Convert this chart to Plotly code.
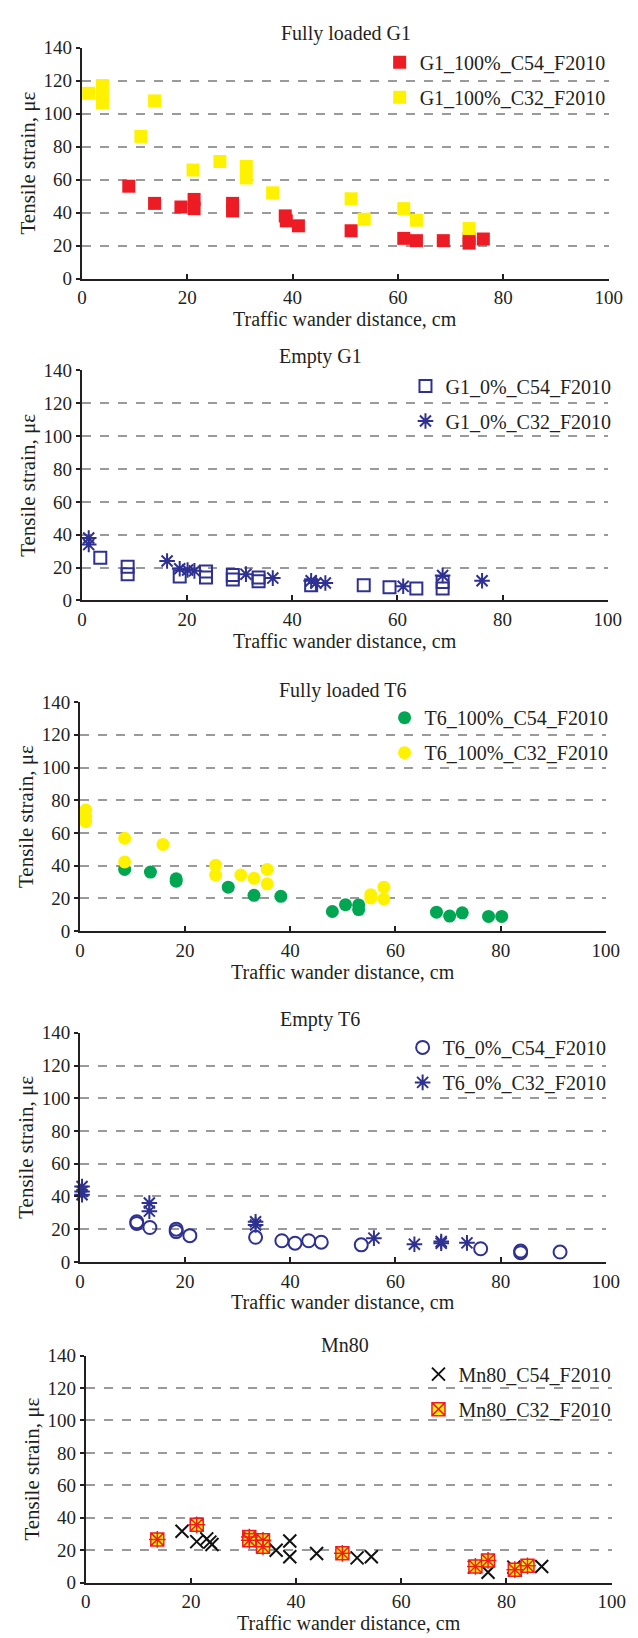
import plotly.graph_objects as go

W, H = 638, 1638
FONT = "Liberation Serif"
NAVY = "#2E3192"
RED = "#ED1C24"
YEL = "#FFF200"
GREEN = "#00A651"
GRID = "#9A9A9A"
INK = "#231F20"

# ---------------- data ----------------
x_ticks = [0, 20, 40, 60, 80, 100]
y_ticks = [0, 20, 40, 60, 80, 100, 120, 140]

panel_titles = ["Fully loaded G1", "Empty G1", "Fully loaded T6", "Empty T6", "Mn80"]
x_title = "Traffic wander distance, cm"
y_title = "Tensile strain, \u03bc\u03b5"

g1_full_c54_x = [8.9, 13.8, 18.8, 21.3, 21.3, 28.6, 28.6, 38.6, 38.8, 41.1, 51.1, 61.1, 63.5, 68.6, 73.5, 73.5, 76.2]
g1_full_c54_y = [56, 45.6, 43.4, 48, 42.4, 45.6, 41, 38, 35, 32, 29, 24.4, 23, 23, 24, 21.5, 24]
g1_full_c32_x = [1.3, 3.9, 3.9, 3.9, 13.8, 11.2, 21.1, 26.2, 31.2, 31.2, 36.2, 51.1, 53.6, 61.1, 63.5, 73.5]
g1_full_c32_y = [112.3, 117, 111, 106.5, 107.7, 86.2, 65.8, 71, 68, 61, 52, 48.4, 36, 42.4, 35.4, 30.4]

g1_empty_c54_x = [3.5, 8.7, 8.7, 18.6, 23.6, 23.6, 28.7, 28.7, 33.6, 33.6, 43.6, 53.6, 58.5, 63.6, 68.6, 68.6]
g1_empty_c54_y = [26, 20.5, 16, 14.6, 17.6, 14, 15.5, 12.8, 14, 11.6, 9.2, 9.2, 8, 7.2, 11.2, 7.2]
g1_empty_c32_x = [1.3, 1.3, 16.2, 18.6, 20.1, 21.4, 31.2, 36.3, 43.6, 44.5, 46.3, 61.1, 68.6, 76.1]
g1_empty_c32_y = [38, 34, 24, 19.3, 18.5, 18, 16, 13.6, 12, 10.6, 10.6, 8.6, 15.2, 12]

t6_full_c54_x = [8.5, 13.4, 18.3, 18.3, 28.2, 33.1, 38.2, 48, 50.5, 53, 53, 67.8, 70.3, 72.7, 77.7, 80.2]
t6_full_c54_y = [37.7, 36.1, 32, 30.5, 26.9, 21.9, 21.3, 12, 16.2, 16, 13.2, 11.6, 9.2, 11.2, 9, 9]
t6_full_c32_x = [1.1, 1.1, 1.1, 8.5, 8.5, 15.8, 25.8, 25.8, 30.6, 33.1, 35.6, 35.6, 55.3, 55.3, 57.8, 57.8]
t6_full_c32_y = [74, 70, 67, 56.8, 42.3, 53, 40.3, 34.3, 34.3, 32.3, 37.7, 28.9, 22.3, 20.3, 26.9, 19.7]

t6_empty_c54_x = [10.8, 10.8, 13.3, 18.3, 18.3, 20.9, 33.4, 38.4, 40.9, 43.5, 45.9, 53.5, 76.2, 83.8, 83.8, 91.3]
t6_empty_c54_y = [24.5, 23.5, 21, 20, 18.5, 16, 15, 12.9, 11.4, 12.9, 12, 10.4, 8, 6.6, 5.6, 6]
t6_empty_c32_x = [0.4, 0.4, 0.4, 13.2, 13.2, 33.4, 33.4, 55.9, 63.6, 68.7, 68.7, 73.6]
t6_empty_c32_y = [46, 43, 41, 36, 31, 24.5, 22.5, 14.5, 10.8, 12.4, 11.4, 11.6]

mn80_c54_x = [18.3, 21.1, 23.0, 23.6, 24.0, 36.2, 38.8, 38.8, 43.9, 51.6, 54.3, 73.9, 76.5, 81.4, 86.7]
mn80_c54_y = [31.7, 25.3, 27, 25, 23.5, 20, 25.7, 16, 18, 15.3, 16, 9.6, 6.4, 9.6, 10]
mn80_c32_x = [13.6, 21.1, 31.1, 31.1, 33.7, 33.7, 48.8, 74.1, 76.5, 81.6, 84.0]
mn80_c32_y = [26.7, 35.7, 28.1, 26.1, 26.1, 22.1, 18.1, 10, 13.7, 8, 10.4]

series_names = [
    ["G1_100%_C54_F2010", "G1_100%_C32_F2010"],
    ["G1_0%_C54_F2010", "G1_0%_C32_F2010"],
    ["T6_100%_C54_F2010", "T6_100%_C32_F2010"],
    ["T6_0%_C54_F2010", "T6_0%_C32_F2010"],
    ["Mn80_C54_F2010", "Mn80_C32_F2010"],
]

# ---------------- layout geometry (pixels) ----------------
# (x_left, x_right, y_top, y_bottom)
boxes = [
    (71, 614, 30, 264),
    (71, 613, 357, 590),
    (69, 611, 693, 925),
    (69, 611, 1028, 1260),
    (75, 617, 1355, 1585),
]
title_pos = [(343, 16), (317, 343), (340, 681), (316, 1015), (342, 1344)]
legend_pos = [(616, 25), (622, 353), (619, 689), (617, 1023), (622, 1354)]


def px_x(v):
    return v / W


def px_y(v):
    return 1 - v / H


marker_styles = [
    [dict(symbol="square", size=13, color=RED), dict(symbol="square", size=13, color=YEL)],
    [dict(symbol="square-open", size=12, color=NAVY, line=dict(width=2, color=NAVY)),
     dict(symbol="asterisk-open", size=13, color=NAVY, line=dict(width=2, color=NAVY))],
    [dict(symbol="circle", size=13, color=GREEN), dict(symbol="circle", size=13, color=YEL)],
    [dict(symbol="circle-open", size=13, color=NAVY, line=dict(width=2, color=NAVY)),
     dict(symbol="asterisk-open", size=13, color=NAVY, line=dict(width=2, color=NAVY))],
    [dict(symbol="x-thin-open", size=13, color="#111111", line=dict(width=2, color="#111111")),
     dict(symbol="square-x", size=13, color=YEL, line=dict(width=1.5, color=RED))],
]

data = [
    [(g1_full_c54_x, g1_full_c54_y), (g1_full_c32_x, g1_full_c32_y)],
    [(g1_empty_c54_x, g1_empty_c54_y), (g1_empty_c32_x, g1_empty_c32_y)],
    [(t6_full_c54_x, t6_full_c54_y), (t6_full_c32_x, t6_full_c32_y)],
    [(t6_empty_c54_x, t6_empty_c54_y), (t6_empty_c32_x, t6_empty_c32_y)],
    [(mn80_c54_x, mn80_c54_y), (mn80_c32_x, mn80_c32_y)],
]

fig = go.Figure()
layout = dict(
    width=W, height=H,
    margin=dict(l=0, r=0, t=0, b=0),
    paper_bgcolor="white", plot_bgcolor="white",
    font=dict(family=FONT, color=INK, size=19),
    annotations=[],
)

for i in range(5):
    k = "" if i == 0 else str(i + 1)
    xl, xr, yt, yb = boxes[i]
    leg = "legend" if i == 0 else "legend" + str(i + 1)
    for j in range(2):
        xs, ys = data[i][j]
        fig.add_trace(go.Scatter(
            x=xs, y=ys, mode="markers", name=series_names[i][j],
            marker=marker_styles[i][j], xaxis="x" + k, yaxis="y" + k,
            cliponaxis=False, legend=leg, legendgroup=f"g{i}{j}",
        ))
    if i == 4:
        # red star arms over the yellow squares of the Mn80_C32 series
        fig.add_trace(go.Scatter(
            x=mn80_c32_x, y=mn80_c32_y, mode="markers", showlegend=False,
            marker=dict(symbol="cross-thin-open", size=12, color=RED,
                        line=dict(width=1.5, color=RED)),
            xaxis="x" + k, yaxis="y" + k, cliponaxis=False, hoverinfo="skip",
        ))
    layout["xaxis" + k] = dict(
        domain=[px_x(xl), px_x(xr)], anchor="y" + k, range=[0, 100],
        tickvals=x_ticks, showline=True, linecolor=INK, linewidth=2,
        ticks="inside", ticklen=5, tickwidth=2, tickcolor=INK,
        showgrid=False, zeroline=False, tickfont=dict(size=19),
        ticklabelstandoff=1,
    )
    layout["yaxis" + k] = dict(
        domain=[px_y(yb), px_y(yt)], anchor="x" + k, range=[0, 140],
        tickvals=y_ticks, showline=True, linecolor=INK, linewidth=2,
        ticks="outside", ticklen=4, tickwidth=2, tickcolor=INK,
        showgrid=True, gridcolor=GRID, griddash="dash", gridwidth=1.5,
        zeroline=False, tickfont=dict(size=19),
        title=dict(text=y_title, font=dict(size=21), standoff=2),
    )
    lx, ly = legend_pos[i]
    layout[leg] = dict(
        x=px_x(lx), y=px_y(ly), xanchor="right", yanchor="top",
        bgcolor="rgba(0,0,0,0)", font=dict(size=20),
        traceorder="grouped", tracegroupgap=6,
    )
    tx, ty = title_pos[i]
    layout["annotations"].append(dict(
        text=panel_titles[i], x=px_x(tx), y=px_y(ty), xref="paper", yref="paper",
        showarrow=False, font=dict(size=20), xanchor="center", yanchor="middle",
    ))
    # x-axis title, set just under the tick labels
    layout["annotations"].append(dict(
        text=x_title, x=px_x((xl + xr) / 2), y=px_y(yb + 41), xref="paper", yref="paper",
        showarrow=False, font=dict(size=20), xanchor="center", yanchor="middle",
    ))

fig.update_layout(**layout)
fig.write_html("out.html")
